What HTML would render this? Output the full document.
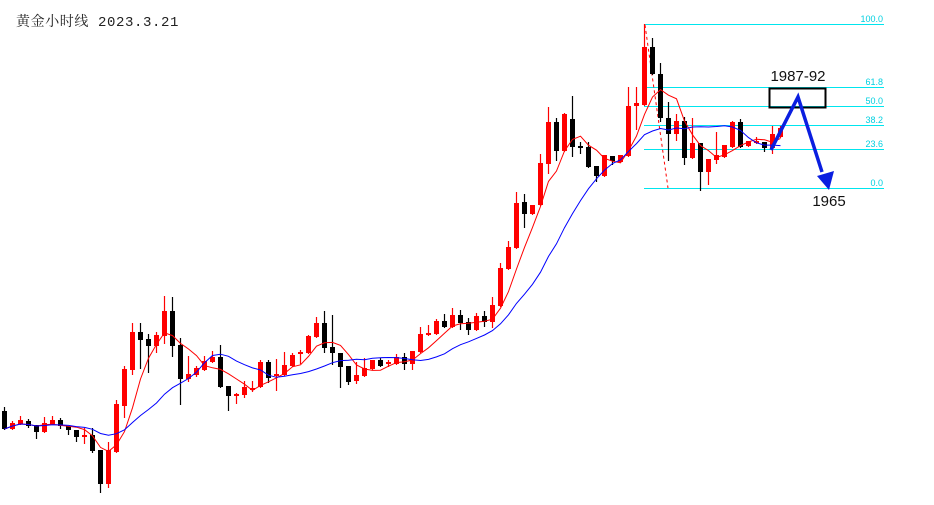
<!DOCTYPE html>
<html><head><meta charset="utf-8"><style>
html,body{margin:0;padding:0;background:#fff;width:934px;height:505px;overflow:hidden}
svg{display:block}
</style></head><body>
<svg id="s" width="934" height="505" xmlns="http://www.w3.org/2000/svg">
<text x="16" y="26" font-family="'Liberation Mono','Noto Serif CJK SC',monospace" font-size="14" letter-spacing="0.6" fill="#222">黄金小时线 2023.3.21</text>
<g stroke="#00e5ee" stroke-width="1">
<line x1="644" y1="24.5" x2="884" y2="24.5"/>
<line x1="644" y1="87.5" x2="884" y2="87.5"/>
<line x1="644" y1="106.5" x2="884" y2="106.5"/>
<line x1="644" y1="125.5" x2="884" y2="125.5"/>
<line x1="644" y1="149.5" x2="884" y2="149.5"/>
<line x1="644" y1="188.5" x2="884" y2="188.5"/>
</g>
<g font-family="'Liberation Sans',sans-serif" font-size="9" fill="#00d0e0" text-anchor="end">
<text x="883" y="22">100.0</text>
<text x="883" y="85">61.8</text>
<text x="883" y="104">50.0</text>
<text x="883" y="123">38.2</text>
<text x="883" y="147">23.6</text>
<text x="883" y="186">0.0</text>
</g>
<line x1="645" y1="25" x2="668" y2="188" stroke="red" stroke-width="1" stroke-dasharray="3,3"/>
<g id="c"></g>
<polyline id="ma1" fill="none" stroke="red" stroke-width="1"/>
<polyline id="ma2" fill="none" stroke="#0000ff" stroke-width="1"/>
<rect x="769.5" y="88.5" width="56" height="19" fill="none" stroke="#000" stroke-width="2"/>
<text x="798" y="81" font-family="'Liberation Sans',sans-serif" font-size="15" fill="#111" text-anchor="middle">1987-92</text>
<polyline points="771,150 798,97 822,172" fill="none" stroke="#0a1ee0" stroke-width="3.5"/>
<polygon points="817,176 834,171 829,190" fill="#0a1ee0"/>
<text x="829" y="206" font-family="'Liberation Sans',sans-serif" font-size="15" fill="#111" text-anchor="middle">1965</text>
</svg>
<script>
var d=[
['b',411,429,407,429],['r',423,429,421,429],['r',420,424,416,424],['b',421,426,419,427],['b',425,432,425,438],
['r',423,432,417,432],['r',420,424,416,424],['b',420,426,418,428],['b',426,430,426,434],['b',430,437,430,441],
['r',435,436,428,443],['b',435,451,428,452],['b',450,484,450,492],['r',450,484,442,487],['r',404,452,400,452],
['r',369,406,366,417],['r',332,370,323,374],['b',332,340,323,368],['b',339,346,334,372],['r',335,346,332,352],
['r',311,336,296,343],['b',311,346,297,356],['b',345,379,338,404],['r',374,379,356,381],['r',368,375,366,376],
['r',361,370,356,370],['r',357,362,351,362],['b',357,387,345,387],['b',386,396,386,410],['r',394,395,393,403],
['r',387,395,381,397],['r',388,389,381,391],['r',362,387,360,387],['b',362,378,360,382],['r',374,376,359,390],
['r',365,375,352,375],['r',355,366,353,366],['r',352,354,350,363],['r',336,353,335,353],['r',323,337,317,337],
['b',323,348,311,352],['b',347,353,315,364],['b',353,367,353,387],['b',366,382,366,384],['r',375,381,362,383],
['r',368,376,358,376],['r',360,369,360,369],['b',360,366,358,366],['r',362,363,360,366],['r',357,364,354,364],
['b',357,364,353,369],['r',351,364,351,369],['r',334,352,327,352],['r',333,335,325,335],['r',321,334,319,334],
['b',321,327,314,327],['r',315,327,308,327],['b',315,323,310,329],['b',322,330,318,334],['r',316,330,313,330],
['b',316,322,311,326],['r',305,322,297,327],['r',268,306,263,306],['r',247,269,241,269],['r',203,248,192,248],
['b',202,214,194,227],['r',205,214,205,214],['r',163,205,154,205],['r',122,164,107,173],['b',122,151,118,160],
['r',114,151,113,151],['b',119,147,96,156],['b',146,147,142,153],['b',147,167,142,167],['b',166,176,166,181],
['r',155,176,155,176],['b',156,161,156,164],['r',155,162,155,162],['r',106,156,87,156],['r',103,106,87,129],
['r',47,105,24,105],['b',47,74,38,74],['b',74,118,63,121],['b',118,134,102,160],['r',121,134,114,140],
['b',121,158,117,164],['r',143,158,118,158],['b',143,172,143,190],['r',159,172,159,184],['r',155,160,132,163],
['r',145,157,145,157],['r',122,147,121,147],['b',122,147,119,147],['r',141,146,141,146],['r',141,142,137,143],
['b',142,148,142,151],['r',134,148,126,153],['r',128,137,126,137]];
var g=document.getElementById('c'),h='',cl=[];
d.forEach(function(c,i){var x=4+8*i,col=c[0]=='r'?'#ff0000':'#000';
h+='<line x1="'+(x+.5)+'" y1="'+c[3]+'" x2="'+(x+.5)+'" y2="'+(c[4]+1)+'" stroke="'+col+'" stroke-width="1.2"/>';
h+='<rect x="'+(x-2)+'" y="'+c[1]+'" width="5" height="'+Math.max(2,c[2]-c[1])+'" fill="'+col+'"/>';
cl.push(c[0]=='r'?c[1]:c[2]);});
g.innerHTML=h;
function ma(n){var p=[];for(var i=0;i<cl.length;i++){var s=0,k=0;for(var j=Math.max(0,i-n+1);j<=i;j++){s+=cl[j];k++;}p.push((4.5+8*i)+','+(s/k).toFixed(1));}return p.join(' ');}
document.getElementById('ma1').setAttribute('points',ma(5));
document.getElementById('ma2').setAttribute('points',ma(13));
</script>
</body></html>
